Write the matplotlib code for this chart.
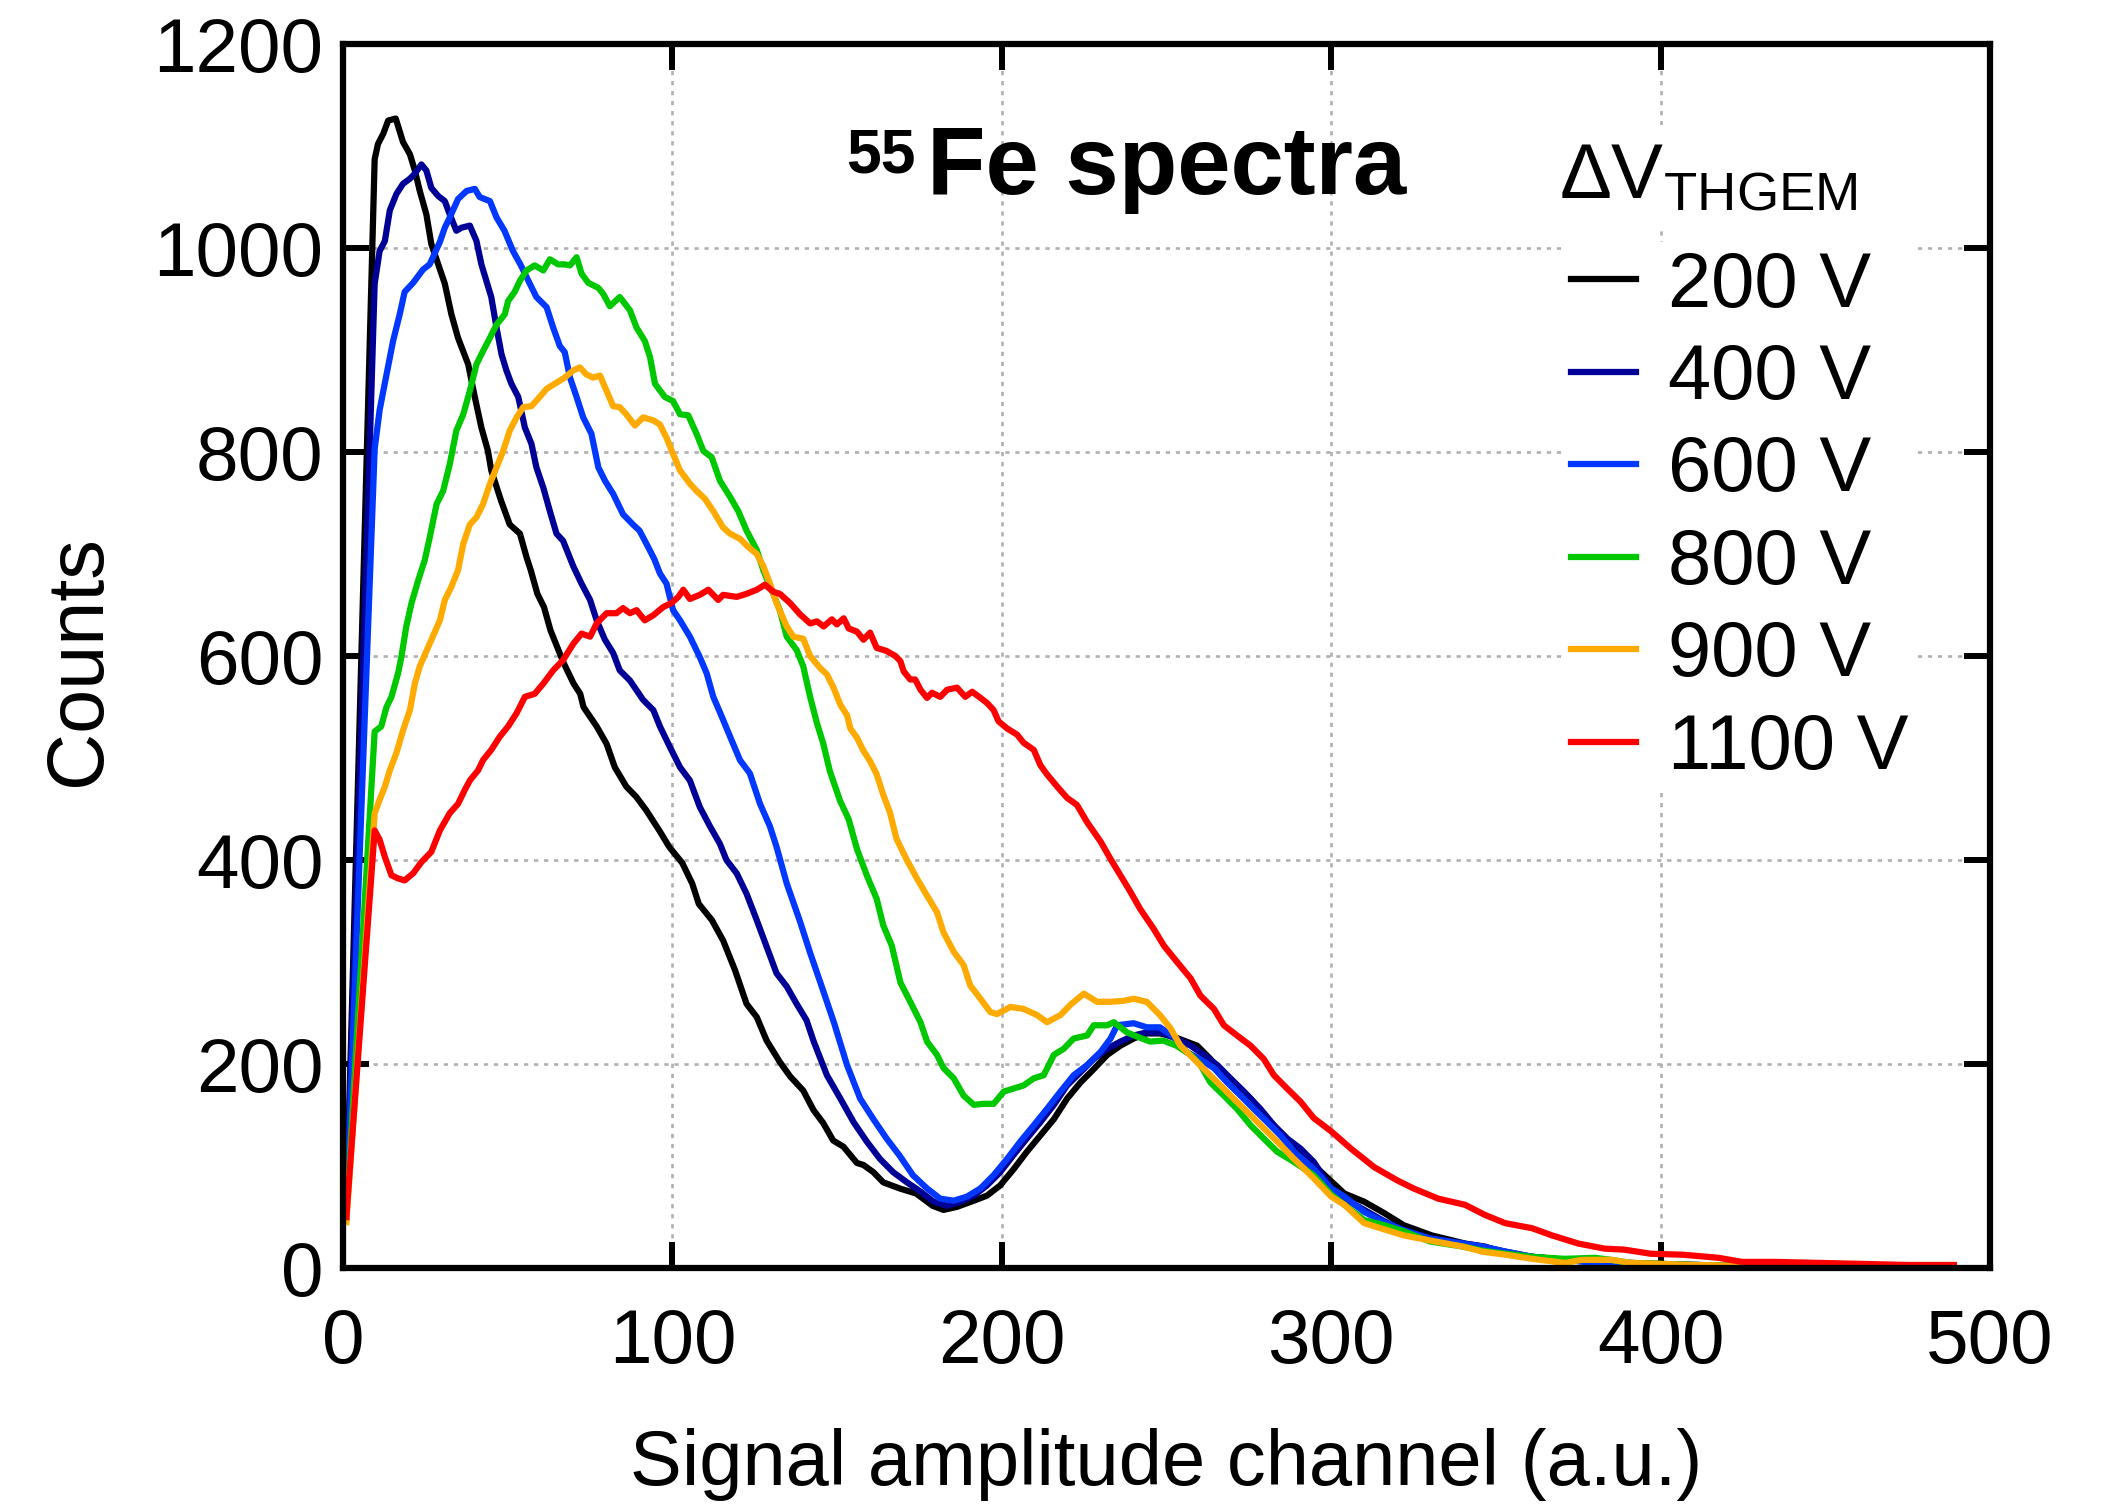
import matplotlib
matplotlib.use('Agg')
import matplotlib.pyplot as plt
from matplotlib.ticker import MultipleLocator

plt.rcParams['font.family'] = ['Liberation Sans', 'DejaVu Sans']
plt.rcParams['mathtext.fontset'] = 'custom'
plt.rcParams['mathtext.rm'] = 'Liberation Sans'
plt.rcParams['mathtext.it'] = 'Liberation Sans:italic'
plt.rcParams['mathtext.bf'] = 'Liberation Sans:bold'

# (channel, counts)
s200 = [(1, 50), (9.6, 1087), (10.6, 1102), (12.2, 1112), (13.7, 1125), (16, 1127), (18.2, 1104),
        (20.3, 1092), (21.8, 1076), (23.3, 1056), (25.3, 1033), (26.8, 1004), (28.9, 984), (30.9, 965),
        (32.9, 935), (34.9, 912), (38, 886), (40, 854), (42, 824), (44, 801), (45, 782), (48, 752),
        (50.6, 729), (53.7, 720), (55.7, 697), (57, 684), (59, 661), (61, 648), (63, 625), (65, 609),
        (67, 593), (70, 573), (72, 563), (73, 550), (77, 531), (80, 514), (82.5, 491), (86, 472),
        (89, 462), (92, 449), (94, 439), (96, 429), (99, 413), (103, 397), (106, 377), (108, 357),
        (112, 341), (115.4, 321), (119, 292), (122.5, 259), (125.6, 246), (128.6, 223), (132.6, 202),
        (135.7, 188), (139.7, 174), (142.8, 155), (145.8, 142), (148.8, 125), (151.9, 119), (156, 103),
        (158, 101), (161, 94), (164, 84), (169, 78), (174, 73), (179, 61), (182.3, 57), (186.4, 60),
        (191.5, 66), (195.5, 71), (199.5, 81), (203.6, 97), (207.6, 114), (211.7, 130), (215.8, 146),
        (219.8, 166), (223.9, 182), (227.9, 195), (232, 209), (236, 218), (240, 225), (244, 230),
        (248, 230), (252, 227), (256, 222), (259.3, 218), (263.3, 205), (267.4, 189), (271.4, 179),
        (275.5, 166), (280.6, 146), (284.6, 133), (289.7, 117), (294.7, 101), (300, 85), (304, 73),
        (310, 65), (316, 54), (322, 42), (330.5, 32), (340.6, 24), (346.7, 21), (352.8, 14), (361, 11),
        (371, 8), (381, 6), (391, 5), (410, 3), (430, 2), (450, 2), (470, 1), (489, 1)]

s400 = [(1, 50), (9.6, 965), (11.1, 997), (12.7, 1007), (14.2, 1037), (16.2, 1053), (18.2, 1063),
        (20.3, 1068), (21.8, 1073), (23.8, 1082), (25.3, 1076), (26.8, 1059), (28.9, 1051), (30.9, 1046),
        (32.4, 1033), (34.4, 1017), (36, 1020), (38.5, 1022), (40.5, 1007), (42, 984), (43.5, 968),
        (45, 952), (46.6, 922), (48.1, 896), (49.6, 880), (51.1, 867), (53.2, 854), (55.2, 824),
        (57.2, 808), (58.7, 785), (60.8, 765), (62.8, 742), (64.8, 720), (66.8, 713), (69.9, 688),
        (72.4, 671), (75, 655), (77, 635), (79.5, 616), (82, 603), (84, 586), (87.1, 576), (89, 567),
        (91.1, 557), (94.2, 547), (96.2, 531), (99.2, 511), (102.3, 491), (105.3, 478), (108.3, 452),
        (111.4, 433), (114.4, 416), (116.4, 400), (119.5, 387), (122.5, 367), (125.6, 341), (128.6, 315),
        (131.6, 289), (134.7, 276), (137.7, 259), (140.7, 243), (142.9, 222), (146.9, 189), (151, 166),
        (155, 143), (159, 124), (163, 107), (167, 94), (171.2, 84), (175.3, 75), (179.3, 65), (183.4, 61),
        (187.4, 65), (191.5, 71), (195.5, 81), (199.5, 94), (203.6, 111), (207.6, 127), (211.7, 143),
        (215.8, 160), (219.8, 179), (223.9, 192), (227.9, 205), (232, 215), (236, 222), (240, 228),
        (244, 231), (248, 231), (253, 225), (257.3, 218), (261.3, 209), (265.4, 199), (269.4, 186),
        (273.5, 173), (278.5, 156), (282.6, 140), (286.6, 127), (290.7, 117), (294.7, 104), (300, 78),
        (304, 68), (310, 57), (316, 46), (322, 37), (330, 29), (340, 24), (346, 21), (353, 16), (361, 11),
        (371, 8), (381, 5), (391, 4), (410, 3), (430, 2), (450, 1), (470, 1), (489, 1)]

s600 = [(1, 50), (9.6, 803), (11.1, 841), (13.2, 876), (15.2, 909), (17.2, 935), (18.7, 957), (21.3, 966),
        (24.3, 979), (26.3, 984), (29.4, 1006), (30.9, 1020), (32.4, 1030), (34.9, 1048), (37.5, 1056),
        (40, 1058), (41.5, 1050), (44.6, 1046), (46.6, 1030), (49, 1017), (51.6, 997), (54, 983),
        (56.7, 965), (58.7, 952), (61.8, 942), (63.8, 922), (65.8, 904), (67.3, 898), (68.9, 873),
        (70.9, 854), (72.9, 834), (75.4, 818), (77.5, 785), (79.5, 772), (82, 759), (85, 739), (88, 729),
        (90, 723), (92.6, 707), (94.5, 695), (96.2, 681), (98.2, 671), (100.2, 645), (102.3, 635),
        (105.3, 619), (108.3, 599), (110.4, 583), (112.4, 560), (114.4, 545), (117.5, 521), (120.5, 498),
        (123.5, 485), (126.6, 455), (129.6, 433), (131.6, 413), (134.7, 377), (138.7, 340), (141.8, 309),
        (144.9, 280), (149, 241), (153, 199), (157, 166), (161, 146), (165, 127), (169, 110), (173, 91),
        (177.3, 78), (181.3, 68), (185.4, 66), (189.4, 70), (193.5, 78), (197.5, 91), (201.6, 107),
        (205.6, 124), (209.7, 140), (213.7, 156), (217.8, 173), (221.8, 189), (225.9, 199), (230, 212),
        (233, 225), (235, 238), (240, 240), (244, 236), (248, 236), (252, 227), (256, 212), (260, 205),
        (264.4, 196), (268.4, 182), (272.5, 169), (276.5, 156), (280.6, 143), (284.6, 130), (288.7, 114),
        (294.7, 97), (300, 78), (304, 70), (310, 55), (316, 45), (322, 37), (330, 29), (340, 24), (346, 21),
        (353, 16), (361, 11), (371, 8), (381, 5), (391, 4), (410, 3), (430, 2), (450, 1), (470, 1), (489, 1)]

s800 = [(1, 50), (9.6, 526), (11.6, 531), (13.2, 550), (14.7, 560), (16.7, 583), (17.7, 599), (19.2, 629),
        (20.8, 652), (22.8, 674), (24.8, 694), (26.3, 716), (28.4, 749), (30.4, 762), (32.4, 788),
        (34.4, 821), (36.5, 837), (38.5, 860), (40.5, 886), (42.5, 899), (44.6, 912), (46.6, 925),
        (49.1, 935), (50.1, 948), (52.1, 957), (53.7, 968), (55.7, 978), (58.2, 983), (60.8, 978),
        (62.8, 989), (65.3, 984), (67.3, 984), (68.9, 983), (70.9, 991), (72.4, 975), (74.4, 966),
        (77.5, 961), (79, 955), (81, 943), (84, 952), (87.1, 939), (89.1, 922), (91.6, 909), (93.2, 893),
        (94.7, 867), (97.7, 854), (100.2, 850), (102.3, 837), (104.8, 836), (107.3, 818), (109.4, 801),
        (111.9, 795), (114.4, 772), (117.5, 756), (120, 742), (122.5, 723), (125.6, 704), (127.6, 684),
        (130.6, 661), (132.6, 645), (134.7, 619), (137.7, 606), (139.7, 590), (141.8, 560), (143.8, 535),
        (145.8, 514), (147.8, 487), (150.9, 458), (153.5, 440), (156, 411), (159, 385), (162, 362),
        (164, 336), (166.6, 316), (169.2, 280), (172.2, 261), (175.3, 241), (177.3, 222), (180.3, 209),
        (182.3, 196), (185.4, 186), (188.4, 169), (191.5, 160), (194.5, 161), (197.5, 161), (200.6, 173),
        (203.6, 176), (206.6, 179), (209.7, 186), (212.7, 189), (215.8, 209), (218.8, 215), (221.8, 225),
        (225.9, 228), (227.9, 238), (232, 238), (234, 241), (238, 231), (241, 227), (245, 222), (249, 223),
        (253, 218), (257.3, 209), (260.3, 199), (263.3, 182), (267.4, 169), (271.4, 156), (275.5, 140),
        (279.5, 127), (283.6, 114), (288.7, 104), (294.7, 91), (300, 72), (304, 62), (310, 47), (316, 42),
        (322, 36), (330, 26), (340, 21), (346, 17), (353, 14), (361, 11), (371, 9), (380, 10), (385, 8),
        (391, 5), (410, 3), (430, 2), (450, 1), (470, 1), (489, 1)]

s900 = [(1, 45), (9.6, 446), (11.1, 459), (12.7, 472), (14.2, 488), (16.2, 505), (18.2, 527), (20.3, 547),
        (21.8, 573), (23.3, 590), (26.3, 612), (29.4, 635), (30.9, 655), (32.9, 668), (34.9, 684),
        (36.5, 710), (38.5, 729), (40.5, 736), (42.5, 749), (44.6, 769), (46.6, 785), (48.6, 801),
        (50.6, 821), (52.7, 834), (54.7, 844), (57.2, 845), (59.7, 854), (61.8, 862), (64.8, 868),
        (67.3, 873), (69.9, 880), (71.9, 883), (73.9, 876), (75.9, 873), (78, 875), (80, 860), (82, 845),
        (84, 844), (86, 837), (88.6, 826), (91.1, 834), (94.2, 831), (96.2, 827), (98.2, 814), (100.2, 798),
        (102.3, 782), (105.3, 769), (107.3, 762), (109.9, 754), (112.4, 742), (115.4, 726), (117.5, 720),
        (120.5, 715), (123, 707), (125.6, 700), (127.6, 688), (129.6, 671), (131.6, 652), (134.7, 629),
        (136.7, 619), (139.7, 617), (141.8, 600), (144.9, 588), (146.9, 582), (148.9, 569), (151, 552),
        (153, 542), (154, 529), (156, 520), (158, 507), (160, 497), (162, 484), (164, 464), (166, 447),
        (168, 421), (171, 401), (174.2, 382), (177.3, 365), (180.3, 349), (182.3, 329), (185.4, 310),
        (188.4, 297), (190.4, 277), (193.5, 264), (196.5, 251), (198.5, 249), (202.6, 256), (206.6, 254),
        (210.7, 248), (213.7, 241), (217.8, 248), (220.8, 258), (224.9, 269), (228.9, 261), (233, 261),
        (237, 262), (240, 264), (244, 261), (248, 248), (251.2, 235), (254.2, 218), (258.3, 205),
        (262.3, 192), (266.4, 179), (270.4, 166), (275.5, 150), (279.5, 137), (283.6, 124), (288.7, 107),
        (294.7, 88), (300, 70), (304, 62), (310, 44), (316, 38), (322, 32), (330, 27), (340, 21), (346, 16),
        (353, 13), (361, 9), (371, 5), (376, 8), (385, 8), (391, 5), (400, 4), (410, 3), (430, 2), (450, 1),
        (470, 1), (489, 1)]

s1100 = [(1, 50), (9.6, 429), (11.1, 420), (12.7, 403), (14.7, 385), (16.7, 382), (18.7, 380), (21.3, 387),
         (23.8, 398), (26.8, 408), (29.4, 429), (32.4, 446), (34.9, 455), (37, 469), (38.5, 478), (41, 488),
         (42.5, 498), (45, 508), (47.6, 521), (50.1, 531), (52.7, 544), (55.2, 560), (58.2, 563),
         (60.8, 573), (63.8, 586), (66.8, 596), (69.9, 612), (72.4, 622), (75, 619), (77, 632), (80, 642),
         (83, 642), (85, 647), (87.1, 642), (89.1, 645), (91.6, 635), (94.2, 640), (97.2, 648), (99.7, 652),
         (101.8, 658), (103.3, 665), (105.3, 656), (108.3, 660), (110.9, 665), (113.9, 655), (115.4, 660),
         (119.5, 658), (122.5, 661), (125.6, 665), (128.1, 670), (130.6, 663), (132.6, 661), (135.7, 652),
         (138.7, 641), (141.8, 632), (143.9, 634), (145.9, 629), (148.4, 636), (149.9, 631), (152, 637),
         (153.5, 627), (156, 624), (158, 616), (160, 623), (162, 608), (165, 605), (167.7, 600),
         (169.2, 595), (170.2, 585), (172.2, 577), (173.7, 577), (175.3, 567), (177.3, 559), (178.8, 564),
         (181.3, 560), (183.4, 567), (186.4, 569), (188.9, 560), (191, 565), (193.5, 559), (195.5, 554),
         (197.5, 547), (199, 536), (201.6, 529), (204.6, 523), (206.6, 515), (209.7, 508), (211.7, 493),
         (213.7, 484), (216.8, 472), (219.8, 461), (222.8, 454), (225.9, 437), (230, 418), (233, 401),
         (236, 385), (239, 369), (242, 352), (246, 333), (249.2, 316), (253.2, 300), (257.3, 284),
         (260.3, 267), (264.4, 254), (267.4, 238), (271.4, 228), (275.5, 218), (279.5, 205), (282.6, 189),
         (286.6, 176), (290.7, 163), (294.7, 147), (300, 134), (306, 117), (313, 99), (320, 86), (325, 78),
         (332.5, 68), (340.6, 62), (346.7, 52), (352.8, 44), (361, 39), (367, 32), (375, 24), (383, 19),
         (389, 18), (397, 14), (407, 13), (417.6, 10), (424.7, 6), (434.8, 6), (448, 5), (460, 4), (475, 3),
         (489, 3)]

series = [s200, s400, s600, s800, s900, s1100]
labels = ['200 V', '400 V', '600 V', '800 V', '900 V', '1100 V']
colors = ['#000000', '#000096', '#0038ff', '#00c800', '#ffaa00', '#ff0000']


def main():
    fig = plt.figure(figsize=(21.11, 15.04), dpi=100)
    ax = fig.add_axes([0.1625, 0.1569, 0.7802, 0.8138])

    for pts, lab, col in zip(series, labels, colors):
        x = [p[0] for p in pts]
        y = [p[1] for p in pts]
        ax.plot(x, y, color=col, lw=4.5, label=lab)

    ax.set_xlim(0, 500)
    ax.set_ylim(0, 1200)
    ax.xaxis.set_major_locator(MultipleLocator(100))
    ax.yaxis.set_major_locator(MultipleLocator(200))
    ax.tick_params(which='major', direction='in', length=19, width=4.3,
                   top=True, right=True, labelsize=55, colors='black')
    ax.tick_params(axis='x', pad=29)
    ax.tick_params(axis='y', pad=14)
    for sp in ax.spines.values():
        sp.set_linewidth(4.5)
    ax.grid(True, which='major', color='#b0b0b0', lw=1.9, linestyle=(0, (1.6, 2.2)))
    ax.set_axisbelow(True)

    ax.set_xlabel('Signal amplitude channel (a.u.)', fontsize=56)
    ax.set_ylabel('Counts', fontsize=57)
    ax.xaxis.set_label_coords(0.5, -0.131)
    ax.yaxis.set_label_coords(-0.137, 0.496)

    ax.text(0.3546, 0.8775, 'Fe spectra', transform=ax.transAxes, fontsize=69,
            fontweight='bold', ha='left', va='baseline')
    ax.text(0.3479, 0.933, '55', transform=ax.transAxes, fontsize=45,
            fontweight='bold', ha='right', va='top')

    # legend title drawn on its own so the gap to the entries can match
    ax.text(0.7383, 0.874, r'$\mathrm{\Delta V}_{\mathrm{THGEM}}$', transform=ax.transAxes,
            fontsize=56, ha='left', va='baseline', zorder=5,
            bbox=dict(facecolor='white', edgecolor='none', pad=12))

    leg = ax.legend(loc='upper left', bbox_to_anchor=(0.741, 0.8385), borderaxespad=0,
                    fontsize=56, handlelength=0.83, handletextpad=0.42, labelspacing=0.25,
                    borderpad=0.1, frameon=True, fancybox=False)
    leg.get_frame().set_facecolor('white')
    leg.get_frame().set_edgecolor('none')
    leg.get_frame().set_alpha(1)
    for ln in leg.get_lines():
        ln.set_linewidth(4.5)

    fig.savefig('out.png', dpi=100, facecolor='white')


if __name__ == '__main__':
    main()
